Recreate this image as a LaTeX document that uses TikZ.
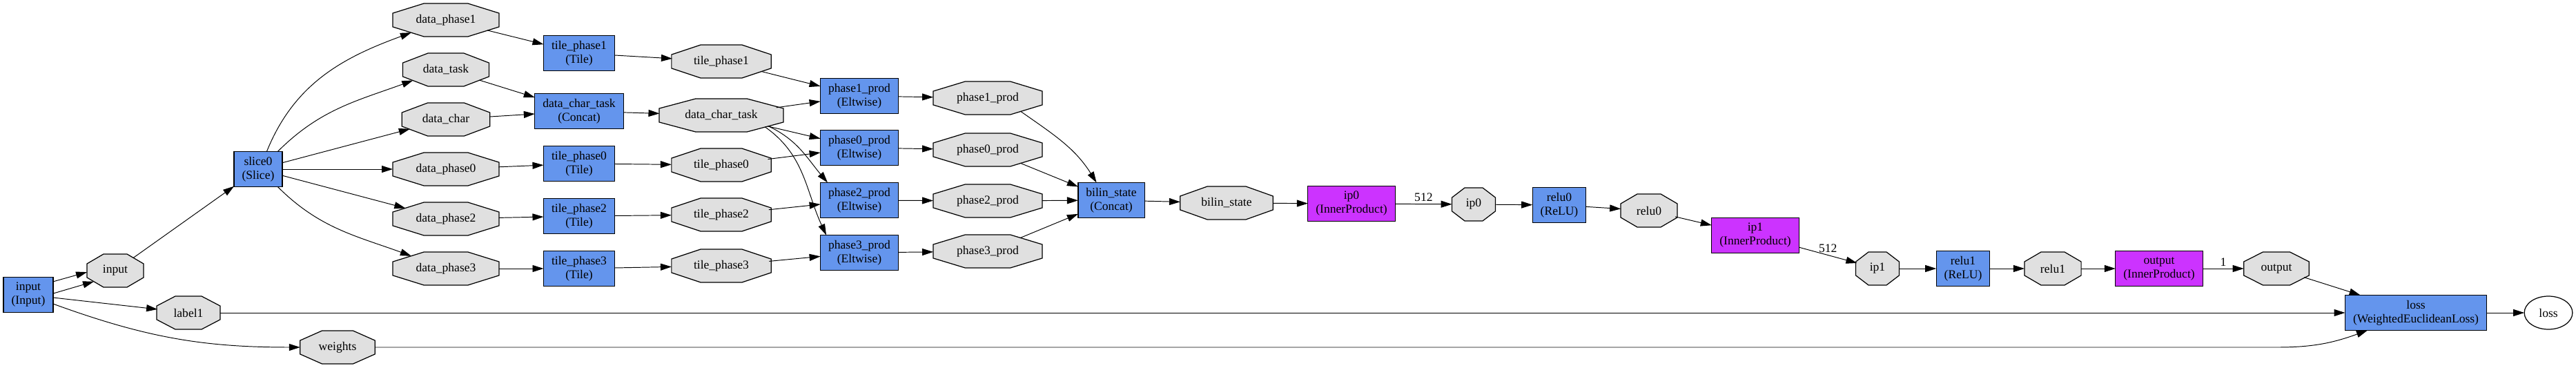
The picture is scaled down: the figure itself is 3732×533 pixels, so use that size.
\documentclass[tikz,border=0pt]{standalone}
\usepackage{fontspec}
\setmainfont{Liberation Serif}
\definecolor{layerblue}{RGB}{100,149,237}
\definecolor{ipmagenta}{RGB}{204,51,255}
\definecolor{blobgray}{RGB}{224,224,224}
\usetikzlibrary{shapes.geometric,arrows.meta,backgrounds,calc}

\begin{document}
\begin{tikzpicture}[
    font=\fontsize{10}{11.4}\selectfont,
    x=0.02cm,
    y=-0.02cm,
    layerbox/.style={
      draw, line width=0.7pt, fill=layerblue, align=center,
      minimum height=1.02cm, inner xsep=0.23cm, inner ysep=2pt, outer sep=0pt
    },
    ipbox/.style={layerbox, fill=ipmagenta},
    blobnode/.style={ellipse, inner xsep=0.22cm, inner ysep=0pt,
      minimum height=0.96cm, outer sep=0pt},
    blobline/.style={draw, line width=0.7pt, fill=blobgray},
    arrow/.style={-{Triangle[length=0.32cm, width=0.2cm]}, line width=0.55pt},
    numlabel/.style={above=1pt, inner sep=1pt}
  ]
  \useasboundingbox (0,0) rectangle (3732,533);

  % layers
  \node[layerbox] (input) at (41,427) {input\\(Input)};
  \node[layerbox] (slice) at (374,245) {slice0\\(Slice)};
  \node[layerbox] (tile1) at (839,77) {tile\_phase1\\(Tile)};
  \node[layerbox] (dct) at (839,161) {data\_char\_task\\(Concat)};
  \node[layerbox] (tile0) at (839,237) {tile\_phase0\\(Tile)};
  \node[layerbox] (tile2) at (839,313) {tile\_phase2\\(Tile)};
  \node[layerbox] (tile3) at (839,389) {tile\_phase3\\(Tile)};
  \node[layerbox] (prod1) at (1245,139) {phase1\_prod\\(Eltwise)};
  \node[layerbox] (prod0) at (1245,214) {phase0\_prod\\(Eltwise)};
  \node[layerbox] (prod2) at (1245,290) {phase2\_prod\\(Eltwise)};
  \node[layerbox] (prod3) at (1245,366) {phase3\_prod\\(Eltwise)};
  \node[layerbox] (bilin) at (1610,290) {bilin\_state\\(Concat)};
  \node[ipbox] (ip0) at (1958,295) {ip0\\(InnerProduct)};
  \node[layerbox] (relu0) at (2259,297) {relu0\\(ReLU)};
  \node[ipbox] (ip1) at (2543,341) {ip1\\(InnerProduct)};
  \node[layerbox] (relu1) at (2844,389) {relu1\\(ReLU)};
  \node[ipbox] (output) at (3128,389) {output\\(InnerProduct)};
  \node[layerbox] (loss) at (3500,453) {loss\\(WeightedEuclideanLoss)};

  % blobs
  \node[blobnode] (inputb) at (167,392) {input};
  \node[blobnode] (label) at (273,453) {label1};
  \node[blobnode] (weights) at (489,503) {weights};
  \node[blobnode] (dphase1) at (646,29) {data\_phase1};
  \node[blobnode] (dtask) at (646,101) {data\_task};
  \node[blobnode] (dchar) at (646,173) {data\_char};
  \node[blobnode] (dphase0) at (646,245) {data\_phase0};
  \node[blobnode] (dphase2) at (646,317) {data\_phase2};
  \node[blobnode] (dphase3) at (646,389) {data\_phase3};
  \node[blobnode] (tile1b) at (1045,89) {tile\_phase1};
  \node[blobnode] (dctb) at (1045,167) {data\_char\_task};
  \node[blobnode] (tile0b) at (1045,239) {tile\_phase0};
  \node[blobnode] (tile2b) at (1045,311) {tile\_phase2};
  \node[blobnode] (tile3b) at (1045,385) {tile\_phase3};
  \node[blobnode] (prod1b) at (1431,142) {phase1\_prod};
  \node[blobnode] (prod0b) at (1431,217) {phase0\_prod};
  \node[blobnode] (prod2b) at (1431,291) {phase2\_prod};
  \node[blobnode] (prod3b) at (1431,364) {phase3\_prod};
  \node[blobnode] (bilinb) at (1777,294) {bilin\_state};
  \node[blobnode] (ip0b) at (2135,296) {ip0};
  \node[blobnode] (relu0b) at (2389,305) {relu0};
  \node[blobnode] (ip1b) at (2720,389) {ip1};
  \node[blobnode] (relu1b) at (2974,389) {relu1};
  \node[blobnode] (outputb) at (3298,389) {output};
  \node[blobnode, draw, line width=0.7pt, fill=white] (losstop) at (3692,453) {loss};

  % octagons behind the blob names
  \begin{scope}[on background layer]
    \foreach \blob in {inputb,label,weights,dphase1,dtask,dchar,dphase0,dphase2,
        dphase3,tile1b,dctb,tile0b,tile2b,tile3b,prod1b,prod0b,prod2b,prod3b,
        bilinb,ip0b,relu0b,ip1b,relu1b,outputb}
      \filldraw[blobline] let \p1=(\blob.center), \p2=(\blob.east), \p3=(\blob.north),
          \n1={\x2-\x1}, \n2={\y3-\y1} in
        ($(\p1)+(\n1,0.414*\n2)$) -- ($(\p1)+(0.414*\n1,\n2)$)
        -- ($(\p1)+(-0.414*\n1,\n2)$) -- ($(\p1)+(-\n1,0.414*\n2)$)
        -- ($(\p1)+(-\n1,-0.414*\n2)$) -- ($(\p1)+(-0.414*\n1,-\n2)$)
        -- ($(\p1)+(0.414*\n1,-\n2)$) -- ($(\p1)+(\n1,-0.414*\n2)$) -- cycle;
  \end{scope}

  % straight connectors
  \foreach \a/\b in {input/label,inputb/slice,slice/dchar,slice/dphase0,slice/dphase2,
      dphase1/tile1,tile1/tile1b,tile1b/prod1,dtask/dct,dchar/dct,dct/dctb,
      dctb/prod1,dctb/prod0,dphase0/tile0,tile0/tile0b,tile0b/prod0,
      dphase2/tile2,tile2/tile2b,tile2b/prod2,dphase3/tile3,tile3/tile3b,tile3b/prod3,
      prod1/prod1b,prod0/prod0b,prod2/prod2b,prod3/prod3b,
      prod0b/bilin,prod2b/bilin,prod3b/bilin,bilin/bilinb,bilinb/ip0,
      ip0b/relu0,relu0/relu0b,relu0b/ip1,ip1b/relu1,relu1/relu1b,relu1b/output,
      outputb/loss,label/loss,loss/losstop}
    \draw[arrow] (\a) -- (\b);

  % bent connectors
  \draw[arrow] (input.28) -- (inputb.183);
  \draw[arrow] (input.3) -- (inputb.207);
  \draw[arrow] (input.-20) to[out=-20,in=180] (weights.west);
  \draw[arrow] (slice.64) to[out=68,in=200] (dphase1.200);
  \draw[arrow] (slice.42) to[out=45,in=200] (dtask.198);
  \draw[arrow] (slice.-42) to[out=-45,in=160] (dphase3.160);
  \draw[arrow] (dctb.-13) to[out=-25,in=130] (prod2.151);
  \draw[arrow] (dctb.-15) to[out=-35,in=115] (prod3.152);
  \draw[arrow] (prod1b.-22) to[out=-35,in=122] (bilin.130);
  \coordinate (wbend) at (3300,503);
  \draw[arrow] (weights) -- (wbend) to[out=0,in=200] (loss.200);

  % connectors with a count
  \draw[arrow] (ip0) -- node[numlabel] {512} (ip0b);
  \draw[arrow] (ip1) -- node[numlabel] {512} (ip1b);
  \draw[arrow] (output) -- node[numlabel] {1} (outputb);
\end{tikzpicture}
\end{document}
